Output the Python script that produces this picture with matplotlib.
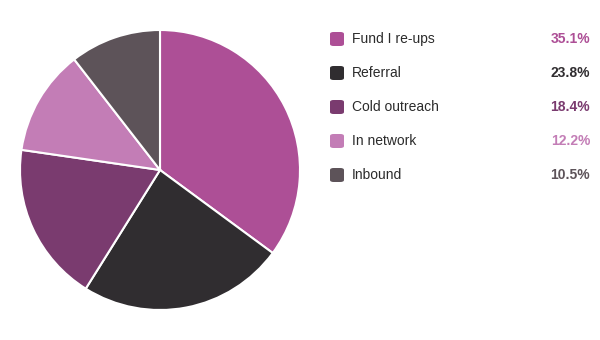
import matplotlib
matplotlib.use('Agg')
import matplotlib.pyplot as plt
from matplotlib.patches import FancyBboxPatch

plt.rcParams['font.family'] = ['Liberation Sans', 'DejaVu Sans']

labels = ['Fund I re-ups', 'Referral', 'Cold outreach', 'In network', 'Inbound']
shares = [35.1, 23.8, 18.4, 12.2, 10.5]
colors = ['#AD4F96', '#302D30', '#7A3B6F', '#C37DB6', '#5D5359']

fig = plt.figure(figsize=(6, 3.4), dpi=100)
ax = fig.add_axes([20/600, 30/340, 280/600, 280/340])
ax.pie(shares, colors=colors, startangle=90, counterclock=False,
       wedgeprops=dict(edgecolor='white', linewidth=1.5))
ax.set_aspect('equal')
ax.set_xlim(-1.0, 1.0)
ax.set_ylim(-1.0, 1.0)

# legend drawn by hand
W, H = 600, 340
for i, (lab, val, c) in enumerate(zip(labels, shares, colors)):
    yc = 39 + 34*i
    box = FancyBboxPatch((330/W, (H - yc - 7)/H), 14/W, 14/H,
                         boxstyle='round,pad=0,rounding_size=0.006',
                         transform=fig.transFigure, facecolor=c, edgecolor='none')
    fig.patches.append(box)
    fig.text(352/W, (H - yc)/H, lab, fontsize=10, color='#2b2b2b',
             ha='left', va='center')
    fig.text(590/W, (H - yc)/H, f'{val:.1f}%', fontsize=10, color=c,
             fontweight='bold', ha='right', va='center')

fig.savefig('out.png', dpi=100)
